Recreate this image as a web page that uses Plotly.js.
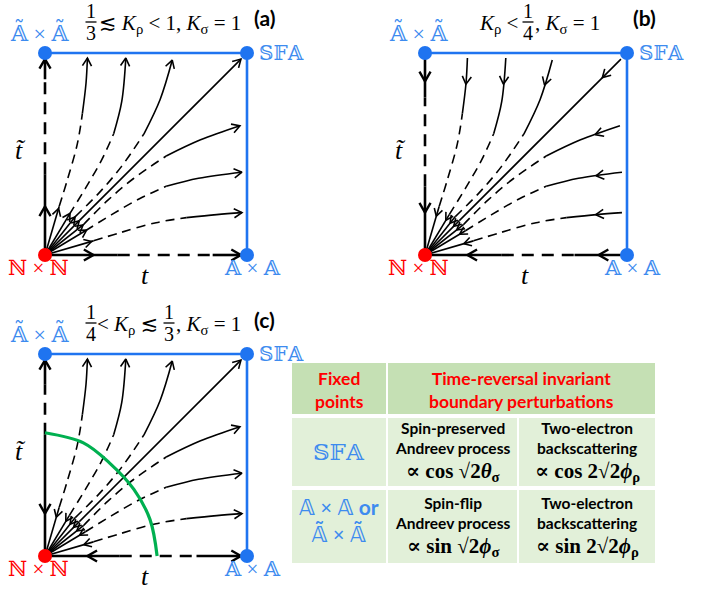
<!DOCTYPE html>
<html><head><meta charset="utf-8">
<script src="https://cdn.plot.ly/plotly-3.0.1.min.js"></script>
<style>body{margin:0;background:#fff}#g{width:711px;height:591px}</style>
</head><body><div id="g"></div>
<script>
// ---------- flow-line control points (t, t~), listed from N×N outward ----------
const top1X = [0, 0.07, 0.11, 0.16, 0.185, 0.203, 0.21];
const top1Y = [0, 0.24, 0.37, 0.55, 0.70, 0.85, 0.975];
const top2X = [0, 0.12, 0.20, 0.28, 0.34, 0.38, 0.40];
const top2Y = [0, 0.20, 0.33, 0.47, 0.60, 0.76, 0.975];
const top3X = [0, 0.15, 0.27, 0.38, 0.49, 0.57, 0.63];
const top3Y = [0, 0.19, 0.31, 0.44, 0.60, 0.77, 0.965];
const right1X = [0, 0.19, 0.31, 0.44, 0.60, 0.77, 0.965];
const right1Y = [0, 0.15, 0.27, 0.38, 0.49, 0.57, 0.64];
const right2X = [0, 0.20, 0.33, 0.47, 0.60, 0.76, 0.975];
const right2Y = [0, 0.12, 0.20, 0.28, 0.34, 0.38, 0.41];
const right3X = [0, 0.24, 0.37, 0.55, 0.70, 0.85, 0.975];
const right3Y = [0, 0.07, 0.11, 0.16, 0.185, 0.20, 0.21];
const diagX = [0, 0.17, 0.97];
const diagY = [0, 0.17, 0.97];
// edges of each panel: [start, end of first solid part, start of last solid part, end]
const edgeA = [0, 0.40, 0.87, 0.97];
const edgeABottom = [0, 0.36, 0.83, 0.97];
const edgeB = [0, 0.34, 0.78, 1.0];
const edgeBBottom = [0, 0.38, 0.74, 1.0];
const edgeC = [0, 0.60, 0.85, 0.97];
const edgeCBottom = [0, 0.37, 0.75, 0.97];
// green separatrix of panel (c)
const arcX = [0, 0.19, 0.32, 0.44, 0.52, 0.555];
const arcY = [0.61, 0.56, 0.46, 0.33, 0.18, 0];
// fixed points
const fixedX = [0, 1, 1];
const fixedY = [1, 1, 0];

// ---------- texts ----------
const panelTags = ['(a)', '(b)', '(c)'];
const tableHeader = ['Fixed<br>points', 'Time-reversal invariant<br>boundary perturbations'];
const fixedPointNames = ['𝕊𝔽𝔸', '𝔸 × 𝔸 <span style="font-family:Lato">or</span><br>𝔸̃ × 𝔸̃'];
const processNames = [['Spin-preserved<br>Andreev process', 'Two-electron<br>backscattering'],
                      ['Spin-flip<br>Andreev process', 'Two-electron<br>backscattering']];
const operators = [['∝ cos √2<i>θ</i><sub>σ</sub>', '∝ cos 2√2<i>ϕ</i><sub>ρ</sub>'],
                   ['∝ sin √2<i>ϕ</i><sub>σ</sub>', '∝ sin 2√2<i>ϕ</i><sub>ρ</sub>']];

const W = 711, H = 591, S = 202;
const BLUE = '#1f74f0', LBLUE = '#3d8bef', RED = '#ff0000', GREEN = '#00b050';
const MATH = 'Liberation Serif, DejaVu Serif, DejaVu Sans';
const SANS = 'Lato, Open Sans, sans-serif';
const px = v => v / W, py = v => 1 - v / H;

const panels = [
  {ox: 45, oy: 255, box: [10, 290, 38, 272], mode: 'a', ly: edgeA, bx: edgeABottom},
  {ox: 425, oy: 255, box: [390, 700, 38, 272], mode: 'b', ly: edgeB, bx: edgeBBottom},
  {ox: 45, oy: 556, box: [10, 290, 339, 573], mode: 'c', ly: edgeC, bx: edgeCBottom}
];
const curves = [[top1X, top1Y], [top2X, top2Y], [top3X, top3Y], [right1X, right1Y], [right2X, right2Y], [right3X, right3Y]];

function plen(xs, ys) { let s = 0; for (let i = 0; i < xs.length - 1; i++) s += Math.hypot(xs[i+1]-xs[i], ys[i+1]-ys[i]); return s; }
function locate(xs, ys, d) {
  let acc = 0;
  for (let i = 0; i < xs.length - 1; i++) {
    const dx = xs[i+1]-xs[i], dy = ys[i+1]-ys[i], l = Math.hypot(dx, dy);
    if (l === 0) continue;
    if (acc + l >= d - 1e-9 || i === xs.length - 2) {
      const t = Math.min(1, Math.max(0, (d - acc) / l));
      return {x: xs[i] + t*dx, y: ys[i] + t*dy, ux: dx/l, uy: dy/l};
    }
    acc += l;
  }
}
function chevron(store, p, sign, L) {
  const a = 30 * Math.PI / 180;
  const dx = -p.ux * sign, dy = -p.uy * sign; // back direction
  const c = Math.cos(a), s = Math.sin(a);
  store.x.push(p.x + L*(dx*c - dy*s), p.x, p.x + L*(dx*c + dy*s), null);
  store.y.push(p.y + L*(dx*s + dy*c), p.y, p.y + L*(-dx*s + dy*c), null);
}
function addSeg(store, xs, ys, i0, i1) {
  for (let i = i0; i <= i1; i++) { store.x.push(xs[i]); store.y.push(ys[i]); }
  store.x.push(null); store.y.push(null);
}

const data = [];
const layout = {width: W, height: H, margin: {l: 0, r: 0, t: 0, b: 0}, showlegend: false,
  paper_bgcolor: '#fff', plot_bgcolor: 'rgba(0,0,0,0)', annotations: [], shapes: []};

panels.forEach((P, k) => {
  const sfx = k === 0 ? '' : String(k + 1);
  const [L, R, T, B] = P.box;
  layout['xaxis' + sfx] = {domain: [L / W, R / W], range: [(L - P.ox) / S, (R - P.ox) / S], visible: false, fixedrange: true};
  layout['yaxis' + sfx] = {domain: [1 - B / H, 1 - T / H], range: [(P.oy - B) / S, (P.oy - T) / S], visible: false, fixedrange: true};
  const xa = 'x' + sfx, ya = 'y' + sfx;
  const solid = {x: [], y: []}, dashed = {x: [], y: []}, eSolid = {x: [], y: []}, eDashed = {x: [], y: []};
  const chev = {x: [], y: []}, eChev = {x: [], y: []};
  const outNear = P.mode === 'a', outFar = P.mode !== 'b';
  curves.concat([[diagX, diagY]]).forEach(([xs, ys]) => {
    const n = xs.length - 1, isDiag = n === 2;
    addSeg(solid, xs, ys, 0, 1);
    if (isDiag) addSeg(solid, xs, ys, 1, n);
    else { addSeg(dashed, xs, ys, 1, 4); addSeg(solid, xs, ys, 4, n); }
    const tot = plen(xs, ys);
    chevron(chev, locate(xs, ys, outNear ? 0.24 : 0.2), outNear ? 1 : -1, 0.042);
    chevron(chev, locate(xs, ys, outFar ? tot : tot - 0.13), outFar ? 1 : -1, 0.045);
  });
  const zeros = [0, 0, 0, 0];
  [[zeros, P.ly], [P.bx, zeros]].forEach(([xs, ys]) => {
    addSeg(eSolid, xs, ys, 0, 1); addSeg(eDashed, xs, ys, 1, 2); addSeg(eSolid, xs, ys, 2, 3);
    const tot = plen(xs, ys);
    chevron(eChev, locate(xs, ys, outNear ? 0.24 : 0.21), outNear ? 1 : -1, 0.055);
    chevron(eChev, locate(xs, ys, outFar ? tot : tot - 0.14), outFar ? 1 : -1, 0.055);
  });
  const base = {type: 'scatter', mode: 'lines', xaxis: xa, yaxis: ya, hoverinfo: 'skip', cliponaxis: false};
  data.push(Object.assign({}, base, {x: fixedX, y: fixedY, line: {color: BLUE, width: 2.6}}));
  data.push(Object.assign({}, base, {x: dashed.x, y: dashed.y, line: {color: '#000', width: 1.6, shape: 'spline', dash: '9px,6px'}}));
  data.push(Object.assign({}, base, {x: solid.x, y: solid.y, line: {color: '#000', width: 1.6, shape: 'spline'}}));
  data.push(Object.assign({}, base, {x: eDashed.x, y: eDashed.y, line: {color: '#000', width: 2.6, dash: '12px,8px'}}));
  data.push(Object.assign({}, base, {x: eSolid.x, y: eSolid.y, line: {color: '#000', width: 2.6}}));
  data.push(Object.assign({}, base, {x: chev.x, y: chev.y, line: {color: '#000', width: 1.6}}));
  data.push(Object.assign({}, base, {x: eChev.x, y: eChev.y, line: {color: '#000', width: 2.4}}));
  if (P.mode === 'c') data.push(Object.assign({}, base, {x: arcX, y: arcY, line: {color: GREEN, width: 3.2, shape: 'spline'}}));
  data.push(Object.assign({}, base, {mode: 'markers', x: fixedX, y: fixedY, marker: {color: BLUE, size: 14}}));
  data.push(Object.assign({}, base, {mode: 'markers', x: [0], y: [0], marker: {color: RED, size: 14}}));

  const ox = P.ox, oy = P.oy, A = layout.annotations;
  const ann = (x, y, text, o) => A.push(Object.assign({xref: 'paper', yref: 'paper', x: px(x), y: py(y), text: text,
    showarrow: false, xanchor: 'center', yanchor: 'middle', font: {family: MATH, size: 17, color: '#000'}}, o || {}));
  ann(ox - 6, oy - S - 21, '𝔸̃ × 𝔸̃', {font: {family: MATH, size: 22, color: LBLUE}});
  ann(ox + S + 10, oy - S, '𝕊𝔽𝔸', {xanchor: 'left', font: {family: MATH, size: 20, color: LBLUE}});
  ann(ox - 7, oy + 13, 'ℕ × ℕ', {font: {family: MATH, size: 21, color: RED}});
  ann(ox + S + 5, oy + 13, '𝔸 × 𝔸', {font: {family: MATH, size: 21, color: LBLUE}});
  ann(ox + 100, oy + 20, '<i>t</i>', {font: {family: MATH, size: 26, color: '#000'}});
  ann(ox - 25, oy - 105, '<i>t̃</i>', {font: {family: MATH, size: 26, color: '#000'}});
  ann(ox + 219, oy - S - 35, '<b>' + panelTags[k] + '</b>', {font: {family: SANS, size: 21, color: '#000'}});
});

// panel titles (conditions)
const A = layout.annotations;
const tx = (x, y, text, o) => A.push(Object.assign({xref: 'paper', yref: 'paper', x: px(x), y: py(y), text: text,
  showarrow: false, xanchor: 'left', yanchor: 'middle', font: {family: MATH, size: 21, color: '#000'}}, o || {}));
const frac = (x, yMid, num, den) => {
  tx(x, yMid - 11, num, {xanchor: 'center', font: {family: MATH, size: 20, color: '#000'}});
  tx(x, yMid + 11, den, {xanchor: 'center', font: {family: MATH, size: 20, color: '#000'}});
  layout.shapes.push({type: 'line', xref: 'paper', yref: 'paper', x0: px(x - 5.5), x1: px(x + 5.5), y0: py(yMid), y1: py(yMid), line: {color: '#000', width: 1.3}});
};
frac(91, 22, '1', '3');
tx(97, 24, '≲ <i>K</i><sub>ρ</sub> &lt; 1, <i>K</i><sub>σ</sub> = 1');
tx(520, 24, '<i>K</i><sub>ρ</sub> &lt;', {xanchor: 'right'});
frac(528, 22, '1', '4');
tx(533, 24, ', <i>K</i><sub>σ</sub> = 1');
frac(91, 323, '1', '4');
tx(127, 325, '&lt; <i>K</i><sub>ρ</sub> ≲', {xanchor: 'center'});
frac(169, 323, '1', '3');
tx(174, 325, ', <i>K</i><sub>σ</sub> = 1');

// ---------- table ----------
const HEAD = '#c5e0b4', BODY = '#e2f0d9';
const rect = (x0, y0, x1, y1, c) => layout.shapes.push({type: 'rect', xref: 'paper', yref: 'paper', layer: 'below',
  x0: px(x0), x1: px(x1), y0: py(y1), y1: py(y0), fillcolor: c, line: {width: 0}});
const colX = [292, 386, 388, 517, 519, 655];
const rowY = [363, 414, 418, 486, 490, 563];
rect(colX[0], rowY[0], colX[1], rowY[1], HEAD);
rect(colX[2], rowY[0], colX[5], rowY[1], HEAD);
for (let r = 0; r < 2; r++) for (let c = 0; c < 3; c++)
  rect(colX[2*c], rowY[2 + 2*r], colX[2*c + 1], rowY[3 + 2*r], BODY);
const cx = c => (colX[2*c] + colX[2*c + 1]) / 2;
const ca = (x, y, text, font) => A.push({xref: 'paper', yref: 'paper', x: px(x), y: py(y), text: text, showarrow: false,
  xanchor: 'center', yanchor: 'middle', align: 'center', font: font});
ca(cx(0), 390, '<b>' + tableHeader[0] + '</b>', {family: SANS, size: 17.5, color: RED});
ca((colX[2] + colX[5]) / 2, 390, '<b>' + tableHeader[1] + '</b>', {family: SANS, size: 17.5, color: RED});
ca(cx(0), 452, fixedPointNames[0], {family: MATH, size: 23, color: LBLUE});
ca(cx(0), 520, '<b>' + fixedPointNames[1] + '</b>', {family: MATH, size: 21, color: LBLUE});
const labelY = [438, 513], opY = [472, 547];
for (let r = 0; r < 2; r++) for (let c = 0; c < 2; c++) {
  ca(cx(c + 1), labelY[r], '<b>' + processNames[r][c] + '</b>', {family: SANS, size: 15.5, color: '#000'});
  ca(cx(c + 1), opY[r], '<b>' + operators[r][c] + '</b>', {family: MATH, size: 21, color: '#000'});
}

Plotly.newPlot('g', data, layout, {staticPlot: true});
</script></body></html>
